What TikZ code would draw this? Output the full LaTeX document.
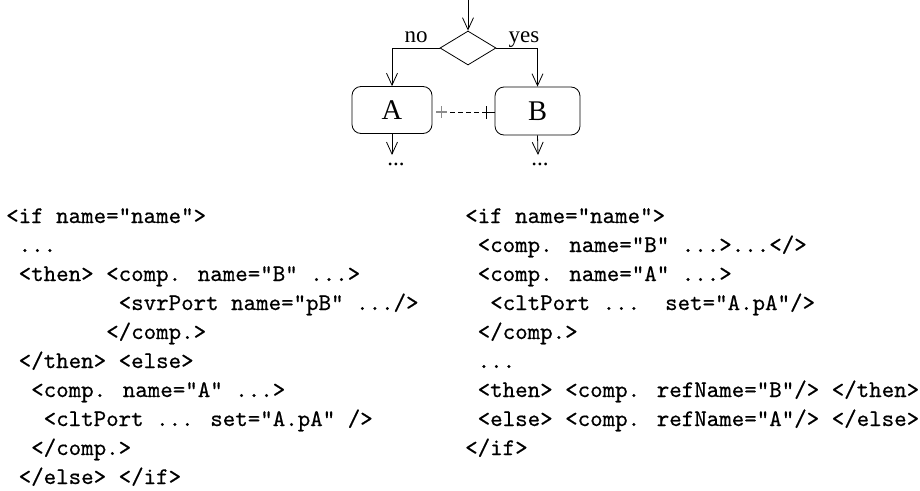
\documentclass[tikz,border=0pt]{standalone}
\usepackage{fontspec}
\newfontfamily\timesf{Liberation Serif}
\newfontfamily\codef[FakeBold=0.5]{lmmono10-regular.otf}
\usetikzlibrary{arrows.meta,shapes.geometric}
\begin{document}
\begin{tikzpicture}[x=1pt,y=-1pt,
  every node/.style={inner sep=0pt},
  flow/.style={draw, line width=0.8pt, -{Straight Barb[length=12pt,width=11pt,line width=0.8pt]}},
  box/.style={draw, line width=0.8pt, rounded corners=9pt, minimum width=80pt, minimum height=47pt, font=\timesf\fontsize{28.5}{30}\selectfont},
  lbl/.style={font=\timesf\fontsize{23}{25}\selectfont},
  code/.style={anchor=base west, font=\codef\fontsize{23.8}{28}\selectfont}]
\useasboundingbox (0,0) rectangle (920,490);
% flow chart
\node[diamond, draw, line width=0.8pt, minimum width=56pt, minimum height=34pt, aspect=1.65] (d) at (468,48) {};
\coordinate (top) at (468,0);
\draw[flow] (top) -- (d.north);
\node[box] (A) at (392,110) {A};
\node[box, minimum width=85pt, minimum height=48pt] (B) at (537.5,111) {B};
\draw[flow] (d.west) -| (A.north);
\draw[flow] (d.east) -| (B.north);
\node[lbl, anchor=base] (no) at (416,42) {no};
\node[lbl, anchor=base] (yes) at (524,42) {yes};
% connector A - B
\draw[black!45, line width=1.1pt] ([xshift=4pt,yshift=-2pt]A.east) -- ([xshift=15pt,yshift=-2pt]A.east)
  ([xshift=9.5pt,yshift=4pt]A.east) -- ([xshift=9.5pt,yshift=-8pt]A.east);
\draw[line width=1pt, dash pattern=on 5pt off 3pt] ([xshift=18pt,yshift=-2pt]A.east) -- ([xshift=-9pt,yshift=-1pt]B.west);
\draw[line width=1pt, {Bar[width=13pt,line width=1.4pt]}-] ([xshift=-9pt,yshift=-1pt]B.west) -- ([yshift=-1pt]B.west);
% continuation
\coordinate (ae) at (392,155);
\coordinate (be) at (538,155);
\draw[flow] (A.south) -- (ae);
\draw[flow] (B.south) -- (be);
\node[lbl, anchor=base] (adots) at (396,165) {...};
\node[lbl, anchor=base] (bdots) at (540,165) {...};
% left code
\node[code] (l1) at (6+0*12.5,223+0*29) {<if name="name">};
\node[code] (l2) at (6+1*12.5,223+1*29) {...};
\node[code] (l3) at (6+1*12.5,223+2*29) {<then> <comp. name="B" ...>};
\node[code] (l4) at (6+9*12.5,223+3*29) {<svrPort name="pB" .../>};
\node[code] (l5) at (6+8*12.5,223+4*29) {</comp.>};
\node[code] (l6) at (6+1*12.5,223+5*29) {</then> <else>};
\node[code] (l7) at (6+2*12.5,223+6*29) {<comp. name="A" ...>};
\node[code] (l8) at (6+3*12.5,223+7*29) {<cltPort ... set="A.pA" />};
\node[code] (l9) at (6+2*12.5,223+8*29) {</comp.>};
\node[code] (l10) at (6+1*12.5,223+9*29) {</else> </if>};
% right code
\node[code] (r1) at (465+0*12.5,223+0*29) {<if name="name">};
\node[code] (r2) at (465+1*12.5,223+1*29) {<comp. name="B" ...>...</>};
\node[code] (r3) at (465+1*12.5,223+2*29) {<comp. name="A" ...>};
\node[code] (r4) at (465+2*12.5,223+3*29) {<cltPort ...\ \ set="A.pA"/>};
\node[code] (r5) at (465+1*12.5,223+4*29) {</comp.>};
\node[code] (r6) at (465+1*12.5,223+5*29) {...};
\node[code] (r7) at (465+1*12.5,223+6*29) {<then> <comp. refName="B"/> </then>};
\node[code] (r8) at (465+1*12.5,223+7*29) {<else> <comp. refName="A"/> </else>};
\node[code] (r9) at (465+0*12.5,223+8*29) {</if>};
\end{tikzpicture}
\end{document}
